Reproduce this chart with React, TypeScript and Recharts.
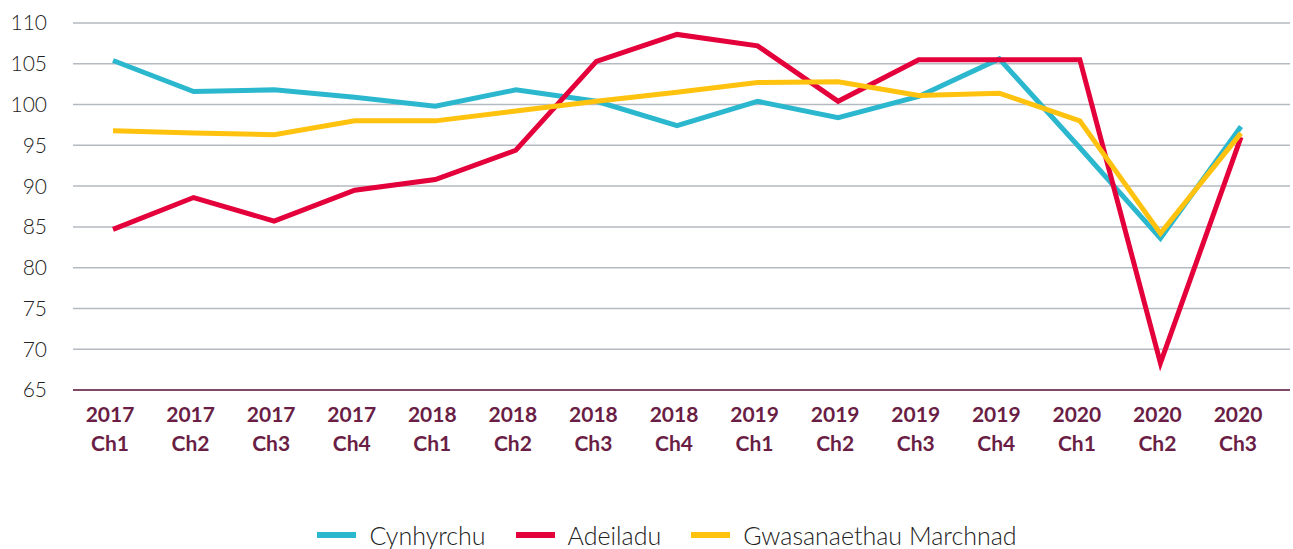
import React from 'react';
import { LineChart, Line, XAxis, YAxis, CartesianGrid, Legend } from 'recharts';

const periods = [
  '2017 Ch1', '2017 Ch2', '2017 Ch3', '2017 Ch4',
  '2018 Ch1', '2018 Ch2', '2018 Ch3', '2018 Ch4',
  '2019 Ch1', '2019 Ch2', '2019 Ch3', '2019 Ch4',
  '2020 Ch1', '2020 Ch2', '2020 Ch3',
];
const cynhyrchu = [105.4, 101.6, 101.8, 100.9, 99.8, 101.8, 100.4, 97.4, 100.4, 98.4, 101.0, 105.6, 94.7, 83.6, 97.3];
const adeiladu = [84.7, 88.6, 85.7, 89.5, 90.8, 94.4, 105.3, 108.6, 107.2, 100.4, 105.5, 105.5, 105.5, 68.3, 96.0];
const gwasanaethau = [96.8, 96.5, 96.3, 98.0, 98.0, 99.2, 100.4, 101.5, 102.7, 102.8, 101.1, 101.4, 98.0, 84.2, 96.5];
const yTicks = [65, 70, 75, 80, 85, 90, 95, 100, 105, 110];

const series = [
  { key: 'cynhyrchu', name: 'Cynhyrchu', color: '#2BB8CE' },
  { key: 'adeiladu', name: 'Adeiladu', color: '#E4003B' },
  { key: 'gwasanaethau', name: 'Gwasanaethau Marchnad', color: '#FFC20E' },
];

const data = periods.map((p, i) => ({
  period: p,
  cynhyrchu: cynhyrchu[i],
  adeiladu: adeiladu[i],
  gwasanaethau: gwasanaethau[i],
}));

const FONT = 'Lato, "Open Sans", sans-serif';
const MAROON = '#6A1E45';

const PeriodTick = (props: any) => {
  const { x, y, payload } = props;
  const [year, q] = String(payload.value).split(' ');
  return (
    <text x={x - 3} textAnchor="middle" fill={MAROON} fontFamily={FONT} fontWeight={700} fontSize={21}>
      <tspan x={x - 3} y={y + 32}>{year}</tspan>
      <tspan x={x - 3} y={y + 61}>{q}</tspan>
    </text>
  );
};

const LegendContent = () => (
  <div style={{ height: 50, paddingTop: 22, paddingLeft: 44, boxSizing: 'border-box', display: 'flex', justifyContent: 'center', alignItems: 'center', fontFamily: FONT }}>
    {series.map((s, i) => (
      <div key={s.key} style={{ display: 'flex', alignItems: 'center', marginRight: i < series.length - 1 ? 30 : 0, height: 28 }}>
        <span style={{ display: 'inline-block', width: 39, height: 6, background: s.color, marginRight: 13 }} />
        <span style={{ fontSize: 25, fontWeight: 300, color: '#222' }}>{s.name}</span>
      </div>
    ))}
  </div>
);

export default function App() {
  return (
    <div style={{ position: 'absolute', left: 0, top: 0, background: '#fff' }}>
      <LineChart width={1293} height={549} data={data} margin={{ top: 23, right: 3, left: 0, bottom: 0 }}>
        <CartesianGrid vertical={false} stroke="#B5BAC2" strokeWidth={1.5} />
        <XAxis
          dataKey="period"
          padding={{ left: 40, right: 49 }}
          height={109}
          interval={0}
          tickLine={false}
          tickSize={0}
          tickMargin={0}
          axisLine={{ stroke: MAROON, strokeWidth: 1.5 }}
          tick={<PeriodTick />}
        />
        <YAxis
          domain={[65, 110]}
          ticks={yTicks}
          width={73}
          axisLine={false}
          tickLine={false}
          tickSize={0}
          tickMargin={26}
          tick={{ fill: '#222', fontSize: 21, fontFamily: FONT, fontWeight: 300 }}
        />
        {series.map((s) => (
          <Line
            key={s.key}
            dataKey={s.key}
            name={s.name}
            stroke={s.color}
            strokeWidth={5}
            dot={false}
            activeDot={false}
            isAnimationActive={false}
            strokeLinejoin="miter"
          />
        ))}
        <Legend verticalAlign="bottom" content={<LegendContent />} />
      </LineChart>
    </div>
  );
}
